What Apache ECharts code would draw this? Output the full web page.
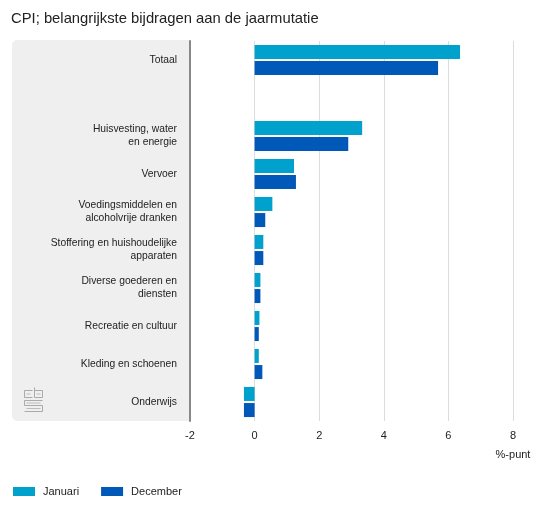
<!DOCTYPE html>
<html>
<head>
<meta charset="utf-8">
<script src="https://cdn.jsdelivr.net/npm/echarts@6/dist/echarts.min.js"></script>
<style>html,body{margin:0;padding:0;background:#fff}#c{width:555px;height:508px}</style>
</head>
<body>
<div id="c"></div>
<script>
const categories = ['Totaal', '', 'Huisvesting, water\nen energie', 'Vervoer', 'Voedingsmiddelen en\nalcoholvrije dranken', 'Stoffering en huishoudelijke\napparaten', 'Diverse goederen en\ndiensten', 'Recreatie en cultuur', 'Kleding en schoenen', 'Onderwijs'];
const januari = [6.36, null, 3.33, 1.22, 0.55, 0.27, 0.18, 0.15, 0.13, -0.33];
const december = [5.68, null, 2.90, 1.28, 0.33, 0.27, 0.18, 0.13, 0.24, -0.33];
const xTicks = [-2, 0, 2, 4, 6, 8];

const chart = echarts.init(document.getElementById('c'));
const font = 'Liberation Sans, Arial, Helvetica, sans-serif';
chart.setOption({
  animation: false,
  textStyle: { fontFamily: font },
  title: { text: 'CPI; belangrijkste bijdragen aan de jaarmutatie', left: 6, top: 6,
    textStyle: { fontSize: 14.8, fontWeight: 'normal', color: '#222', fontFamily: font } },
  legend: { left: 8, top: 481, itemWidth: 22, itemHeight: 9, itemGap: 22,
    textStyle: { fontSize: 11, color: '#222', padding: [0,0,0,3] },
    data: [{ name: 'Januari', icon: 'rect' }, { name: 'December', icon: 'rect' }] },
  graphic: [
    { type: 'rect', z: -10, shape: { x: 12, y: 40, width: 178, height: 381, r: [5, 0, 0, 5] }, style: { fill: '#efefef' } },
    { type: 'text', style: { text: '%-punt', x: 513, y: 455, align: 'center', verticalAlign: 'middle', fontSize: 11, fill: '#222', fontFamily: font } },
    { type: 'group', left: 22, top: 385, children: [
      { type: 'polyline', shape: { points: [[8,3],[0,3],[0,10],[8,10]] }, style: { stroke: '#aaa', lineWidth: 1, fill: null } },
      { type: 'polyline', shape: { points: [[10,0],[10,10],[18,10],[18,3],[10,3]] }, style: { stroke: '#aaa', lineWidth: 1, fill: null } },
      { type: 'polyline', shape: { points: [[18,13],[0,13],[0,18],[18,18],[18,24],[0,24]] }, style: { stroke: '#aaa', lineWidth: 1, fill: null } },
      { type: 'polyline', shape: { points: [[2,6.5],[6,6.5]] }, style: { stroke: '#bbb', lineWidth: 1 } },
      { type: 'polyline', shape: { points: [[12,6.5],[16,6.5]] }, style: { stroke: '#bbb', lineWidth: 1 } },
      { type: 'polyline', shape: { points: [[2,15.5],[16,15.5]] }, style: { stroke: '#bbb', lineWidth: 1 } },
      { type: 'polyline', shape: { points: [[2,21],[16,21]] }, style: { stroke: '#bbb', lineWidth: 1 } }
    ] }
  ],
  grid: { left: 190, right: 42, top: 41, bottom: 87, containLabel: false },
  xAxis: { type: 'value', min: -2, max: 8, interval: 2,
    axisLine: { show: false }, axisTick: { show: false },
    axisLabel: { fontSize: 11, color: '#222', margin: 9, formatter: v => xTicks.includes(v) ? String(v) : '' },
    splitLine: { lineStyle: { color: '#dcdcdc', width: 1 } } },
  yAxis: { type: 'category', inverse: true, data: categories,
    axisLine: { show: true, onZero: false, lineStyle: { color: '#888', width: 2 } },
    axisTick: { show: false },
    axisLabel: { fontSize: 10.3, color: '#222', margin: 13, lineHeight: 13, align: 'right' } },
  series: [
    { name: 'Januari', type: 'bar', data: januari, barWidth: 14, barGap: '15%', itemStyle: { color: '#00a1cd' } },
    { name: 'December', type: 'bar', data: december, barWidth: 14, itemStyle: { color: '#0058b8' } }
  ]
});
</script>
</body>
</html>
